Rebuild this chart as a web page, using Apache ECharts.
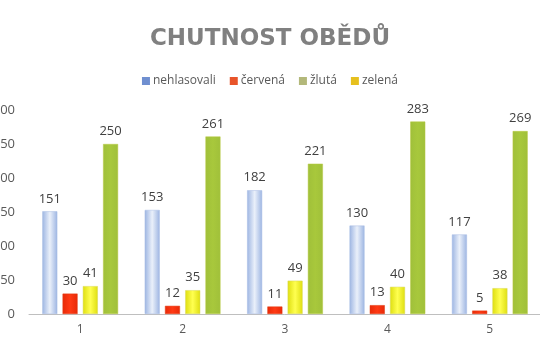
<!DOCTYPE html>
<html><head><meta charset="utf-8">
<script src="https://cdn.jsdelivr.net/npm/echarts@6/dist/echarts.min.js"></script>
<style>html,body{margin:0;padding:0;background:#fff}#c{width:540px;height:360px}</style>
</head><body><div id="c"></div>
<script>
var categories = ['1','2','3','4','5'];
var seriesNames = ['nehlasovali','červená','žlutá','zelená'];
var nehlasovali = [151,153,182,130,117];
var cervena = [30,12,11,13,5];
var zluta = [41,35,49,40,38];
var zelena = [250,261,221,283,269];
var yTicks = [0,50,100,150,200,250,300];

function grad(edge, center){
  return new echarts.graphic.LinearGradient(0,0,1,0,[
    {offset:0,color:edge},{offset:0.5,color:center},{offset:1,color:edge}]);
}
var barFills = [grad('#9db5e2','#eaf0fa'), grad('#e82a08','#ff3a14'), grad('#dede10','#ffff50'), grad('#a0c03a','#a8c83c')];
var barBorders = ['#a8bde4','#e03a10','#d8d860','#b8c840'];
var legendColors = ['#6f8fd0','#e8542a','#b3b87a','#e6c01e'];
var datasets = [nehlasovali, cervena, zluta, zelena];

var chart = echarts.init(document.getElementById('c'));
chart.setOption({
  animation:false,
  title:{text:'CHUTNOST OBĚDŮ', left:'center', top:23,
    textStyle:{fontFamily:'DejaVu Sans', fontWeight:'bold', fontSize:23, color:'#808080'}},
  legend:{top:70, left:'center', itemWidth:8, itemHeight:8, itemGap:14, icon:'rect',
    textStyle:{fontFamily:'Open Sans', fontSize:12, color:'#595959', padding:[0,0,0,-2]},
    data: seriesNames.map(function(n,i){return {name:n, itemStyle:{color:legendColors[i], borderWidth:0}};})},
  grid:{left:29, right:-1, top:110, bottom:46, containLabel:false, outerBoundsMode:'none'},
  xAxis:{type:'category', data:categories,
    axisLine:{lineStyle:{color:'#bfbfbf', width:1}}, axisTick:{show:false},
    axisLabel:{color:'#595959', fontSize:12, fontFamily:'Open Sans', margin:10}},
  yAxis:{type:'value', min:0, max:300, interval:50,
    axisLine:{show:false}, axisTick:{show:false}, splitLine:{show:false},
    axisLabel:{color:'#595959', fontSize:13, fontFamily:'Open Sans', margin:14}},
  series: datasets.map(function(d,i){
    return {name:seriesNames[i], type:'bar', data:d, barWidth:15, barGap:'35%',
      itemStyle:{color:barFills[i], borderColor:barBorders[i], borderWidth:0.5},
      label:{show:true, position:'top', distance:6, color:'#404040', fontSize:13, fontFamily:'Open Sans'}};
  })
});
</script></body></html>
